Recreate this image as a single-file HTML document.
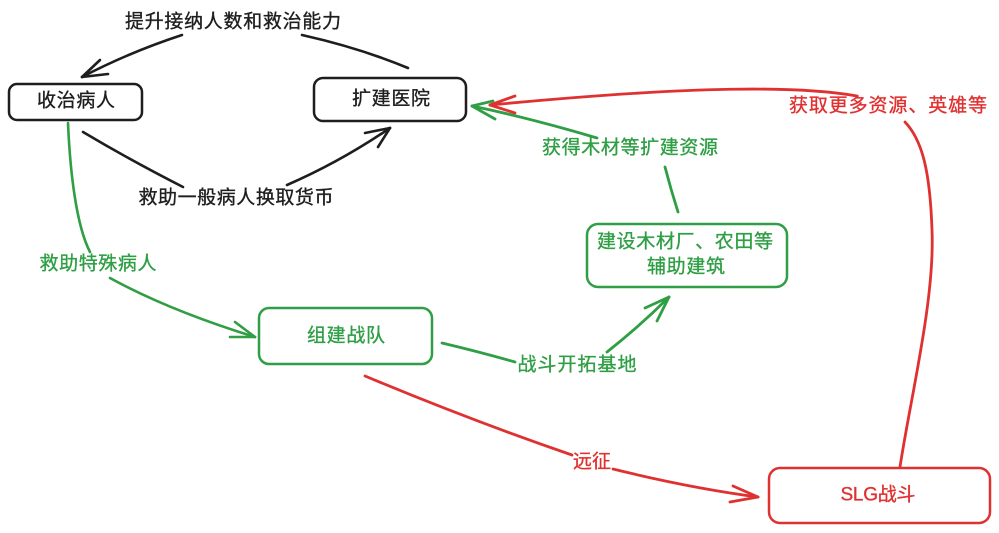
<!DOCTYPE html>
<html>
<head>
<meta charset="utf-8">
<style>
  html,body{margin:0;padding:0;background:#ffffff;}
  body{width:999px;height:533px;overflow:hidden;}
  svg{display:block;}
  text{font-family:"Liberation Sans","Noto Sans CJK SC",sans-serif;font-size:19px;dominant-baseline:central;text-anchor:middle;stroke-width:0.35;}
</style>
</head>
<body>
<svg width="999" height="533" viewBox="0 0 999 533" xmlns="http://www.w3.org/2000/svg">
  <g fill="none" stroke-linecap="round" stroke-linejoin="round">
    <!-- Boxes -->
    <rect x="9" y="84" width="133" height="36" rx="8" stroke="#1e1e1e" stroke-width="2.5"/>
    <rect x="314" y="78" width="152" height="43" rx="9" stroke="#1e1e1e" stroke-width="2.5"/>
    <rect x="259" y="308" width="173" height="56" rx="10" stroke="#2f9e44" stroke-width="2.5"/>
    <rect x="587" y="224" width="200" height="63" rx="11" stroke="#2f9e44" stroke-width="2.5"/>
    <rect x="769" y="468" width="221" height="55" rx="11" stroke="#e03131" stroke-width="2.5"/>

    <!-- Black top arrow: 扩建医院 -> 收治病人 -->
    <g stroke="#1e1e1e" stroke-width="2.6">
      <path d="M408,68 Q360,48 302,35"/>
      <path d="M182,35 Q130,52 82,77"/>
      <path d="M82,77 L100,60"/>
      <path d="M82,77 L108,74"/>
    </g>

    <!-- Black bottom arrow: 收治病人 -> 扩建医院 -->
    <g stroke="#1e1e1e" stroke-width="2.6">
      <path d="M83,132 Q130,160 183,187"/>
      <path d="M287,185 Q340,162 390,128"/>
      <path d="M390,128 L365,133"/>
      <path d="M390,128 L378,147"/>
    </g>

    <!-- Green: 收治病人 -> 组建战队 -->
    <g stroke="#2f9e44" stroke-width="2.6">
      <path d="M68,123 C70,170 76,225 90,252"/>
      <path d="M110,278 C150,300 200,320 255,337"/>
      <path d="M255,337 L235,322"/>
      <path d="M255,337 L230,337"/>
    </g>

    <!-- Green: 组建战队 -> 建设 -->
    <g stroke="#2f9e44" stroke-width="2.8">
      <path d="M442,343 Q480,352 515,362"/>
      <path d="M607,352 Q640,326 669,297"/>
      <path d="M669,297 L645,308"/>
      <path d="M669,297 L657,321"/>
    </g>

    <!-- Green: 建设 -> 扩建医院 -->
    <g stroke="#2f9e44" stroke-width="2.8">
      <path d="M678,212 Q671,190 665,167"/>
      <path d="M597,138 Q530,118 472,106"/>
      <path d="M472,106 L493,101"/>
      <path d="M472,106 L495,119"/>
    </g>

    <!-- Red: 组建战队 -> SLG战斗 -->
    <g stroke="#e03131" stroke-width="2.8">
      <path d="M365,376 Q470,420 572,455"/>
      <path d="M613,469 Q690,488 758,497"/>
      <path d="M758,497 L733,486"/>
      <path d="M758,497 L730,502"/>
    </g>

    <!-- Red: SLG战斗 -> 扩建医院 -->
    <g stroke="#e03131" stroke-width="2.8">
      <path d="M900,467 C910,400 935,300 932,230 C930,170 922,140 905,122"/>
      <path d="M857,96 C800,86 700,85 490,105"/>
      <path d="M490,105 L515,96"/>
      <path d="M490,105 L515,113"/>
    </g>
  </g>

  <!-- Labels -->
  <g fill="#1e1e1e" stroke="#1e1e1e">
    <text x="233" y="22" textLength="216" lengthAdjust="spacing">提升接纳人数和救治能力</text>
    <text x="236" y="198" textLength="195" lengthAdjust="spacing">救助一般病人换取货币</text>
    <text x="76" y="101" textLength="78" lengthAdjust="spacing">收治病人</text>
    <text x="391" y="99" textLength="78" lengthAdjust="spacing">扩建医院</text>
  </g>
  <g fill="#2f9e44" stroke="#2f9e44">
    <text x="98" y="264" textLength="117" lengthAdjust="spacing">救助特殊病人</text>
    <text x="346" y="336" textLength="78" lengthAdjust="spacing">组建战队</text>
    <text x="577" y="365" textLength="119" lengthAdjust="spacing">战斗开拓基地</text>
    <text x="630" y="148" textLength="176" lengthAdjust="spacing">获得木材等扩建资源</text>
    <text x="685" y="242" textLength="176" lengthAdjust="spacing">建设木材厂、农田等</text>
    <text x="686" y="267" textLength="78" lengthAdjust="spacing">辅助建筑</text>
  </g>
  <g fill="#e03131" stroke="#e03131">
    <text x="592" y="462" textLength="38" lengthAdjust="spacing">远征</text>
    <text x="888" y="106" textLength="198" lengthAdjust="spacing">获取更多资源、英雄等</text>
    <text x="878" y="495" textLength="75" lengthAdjust="spacing">SLG战斗</text>
  </g>
</svg>
</body>
</html>
